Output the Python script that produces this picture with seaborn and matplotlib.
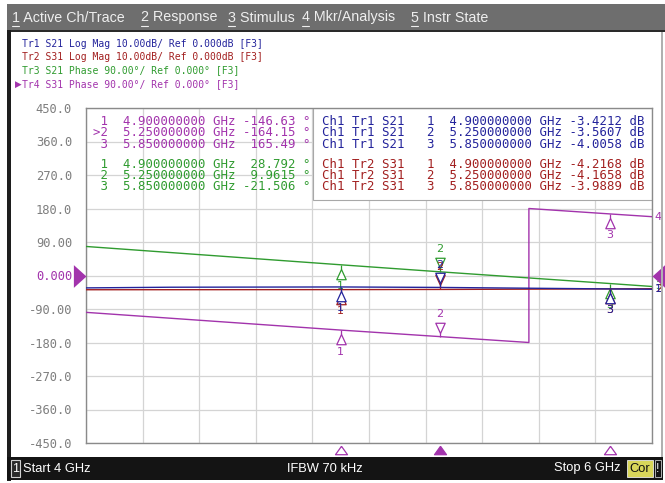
import numpy as np
import pandas as pd
import matplotlib
matplotlib.use("Agg")
import matplotlib.pyplot as plt
import matplotlib.transforms as mtransforms
from matplotlib.path import Path
from matplotlib.markers import MarkerStyle
from matplotlib.patches import Rectangle
from matplotlib.lines import Line2D
from matplotlib import font_manager
import seaborn as sns

# ---------------- data ----------------
start_ghz, stop_ghz = 4.0, 6.0
ifbw_text = "IFBW 70 kHz"
start_text = "Start 4 GHz"
stop_text = "Stop 6 GHz"

tr1_freq = [4.0, 4.3, 4.9, 5.25, 5.85, 6.0]
tr1_db = [-3.70, -3.50, -3.4212, -3.5607, -4.0058, -4.10]
tr2_freq = [4.0, 4.9, 5.25, 5.85, 6.0]
tr2_db = [-4.25, -4.2168, -4.1658, -3.9889, -3.95]
tr3_freq = [4.0, 4.9, 5.25, 5.85, 6.0]
tr3_phase = [78.0, 28.792, 9.9615, -21.506, -29.5]
tr4_freq = [4.0, 4.9, 5.25, 5.565, 5.565, 5.85, 6.0]
tr4_phase = [-99.0, -146.63, -164.15, -180.0, 180.0, 165.49, 158.0]

marker_freq = [4.9, 5.25, 5.85]
marker_names = ["1", "2", "3"]
tr1_mk = [-3.4212, -3.5607, -4.0058]
tr2_mk = [-4.2168, -4.1658, -3.9889]
tr3_mk = [28.792, 9.9615, -21.506]
tr4_mk = [-146.63, -164.15, 165.49]
active_idx = 1

ytick_vals = [450, 360, 270, 180, 90, 0, -90, -180, -270, -360, -450]
ytick_labels = ["450.0", "360.0", "270.0", "180.0", "90.00", "0.000",
                "-90.00", "-180.0", "-270.0", "-360.0", "-450.0"]

header_lines = [
    "Tr1 S21 Log Mag 10.00dB/ Ref 0.000dB [F3]",
    "Tr2 S31 Log Mag 10.00dB/ Ref 0.000dB [F3]",
    "Tr3 S21 Phase 90.00°/ Ref 0.000° [F3]",
    "Tr4 S31 Phase 90.00°/ Ref 0.000° [F3]",
]
menu_digits = ["1", "2", "3", "4", "5"]
menu_words = ["Active Ch/Trace", "Response", "Stimulus", "Mkr/Analysis", "Instr State"]

# ---------------- styling ----------------
C_TR1 = "#23239b"
C_TR2 = "#a21f1f"
C_TR3 = "#2f9b2f"
C_TR4 = "#a233ac"
GRID = "#d4d4d4"
MONO = "DejaVu Sans Mono"

sns.set_style("white")
avail = {f.name for f in font_manager.fontManager.ttflist}
NARROW = "Liberation Sans Narrow" if "Liberation Sans Narrow" in avail else "Liberation Sans"
plt.rcParams["font.family"] = ["DejaVu Sans"]

W, H = 665, 483
fig = plt.figure(figsize=(W / 100, H / 100), dpi=100)
fig.patch.set_facecolor("white")


def fx(x):
    return x / W


def fy(y):
    return 1 - y / H


def rect_px(x0, y0, x1, y1, **kw):
    fig.add_artist(Rectangle((fx(x0), fy(y1)), (x1 - x0) / W, (y1 - y0) / H,
                             transform=fig.transFigure, **kw))


# plot area in pixels: x 86..652, y 108..443
L, R, T, B = 86, 652, 108, 443
ax = fig.add_axes([fx(L), fy(B), (R - L) / W, (B - T) / H])
ax2 = ax.twinx()

# ---------------- frame decorations ----------------
rect_px(7, 4, 665, 30, facecolor="#6e6e6e", edgecolor="none", zorder=1)
rect_px(7, 30, 665, 32, facecolor="#2a2a2a", edgecolor="none", zorder=1)
rect_px(7, 30, 10.5, 481, facecolor="#1e1e1e", edgecolor="none", zorder=1)
rect_px(661, 32, 663, 457, facecolor="#b0b0b0", edgecolor="none", zorder=1)
rect_px(7, 457, 663, 480, facecolor="#141414", edgecolor="none", zorder=1)

menu_x = [12, 141, 228, 302, 411]
for d, w, x in zip(menu_digits, menu_words, menu_x):
    fig.text(fx(x), fy(17.5), d + " " + w, family=[NARROW, "DejaVu Sans"],
             fontsize=10.3, color="#efefef", va="center", ha="left", zorder=3)
    fig.add_artist(Line2D([fx(x), fx(x + 6.5)], [fy(25.5), fy(25.5)],
                          transform=fig.transFigure, color="#efefef", lw=0.8, zorder=3))

hdr_colors = [C_TR1, C_TR2, C_TR3, C_TR4]
hdr_y = [44, 57, 70.5, 84]
for txt, c, y in zip(header_lines, hdr_colors, hdr_y):
    fig.text(fx(22), fy(y), txt, family=MONO, fontsize=7.0, color=c,
             va="center", ha="left", zorder=3)
fig.text(fx(14.5), fy(84), "▶", family="DejaVu Sans", fontsize=6.2, color=C_TR4,
         va="center", ha="left", zorder=3)

# status bar
rect_px(10.5, 460, 20, 477, facecolor="#2a2a2a", edgecolor="#d0d0d0", lw=0.8, zorder=2)
fig.text(fx(15.3), fy(468.5), "1", family=[NARROW, "DejaVu Sans"], fontsize=9,
         color="white", ha="center", va="center", zorder=3)
fig.text(fx(23), fy(468.5), start_text, family=[NARROW, "DejaVu Sans"], fontsize=9.3,
         color="white", ha="left", va="center", zorder=3)
fig.text(fx(287), fy(468.5), ifbw_text, family=[NARROW, "DejaVu Sans"], fontsize=9.3,
         color="white", ha="left", va="center", zorder=3)
fig.text(fx(621), fy(468.5), stop_text, family=[NARROW, "DejaVu Sans"], fontsize=9.3,
         color="white", ha="right", va="center", zorder=3)
rect_px(627, 460, 652.5, 477, facecolor="#d8d65a", edgecolor="#e8e8e8", lw=0.6, zorder=2)
fig.text(fx(639.7), fy(468.5), "Cor", family=[NARROW, "DejaVu Sans"], fontsize=9.3,
         color="#101010", ha="center", va="center", zorder=3)
rect_px(654.5, 460, 661, 477, facecolor="#141414", edgecolor="#c8c8c8", lw=0.6, zorder=2)
fig.text(fx(657.8), fy(468.5), "!", family=[NARROW, "DejaVu Sans"], fontsize=9,
         color="white", ha="center", va="center", zorder=3)

# ---------------- axes ----------------
ax.set_xlim(start_ghz, stop_ghz)
ax.set_ylim(-450, 450)
ax2.set_ylim(-50, 50)
ax.set_xticks(np.linspace(start_ghz, stop_ghz, 11))
ax.set_xticklabels([])
ax.tick_params(axis="x", length=0)
ax.set_yticks(ytick_vals)
ax.set_yticklabels(ytick_labels, family=MONO, fontsize=8.7, color="#7e7e7e")
ax.get_yticklabels()[ytick_labels.index("0.000")].set_color(C_TR4)
ax.tick_params(axis="y", length=0, pad=10)
ax.grid(True, color=GRID, lw=0.9)
ax.set_axisbelow(True)
for s in ax.spines.values():
    s.set_color("#8a8a8a")
    s.set_linewidth(1.0)
ax2.axis("off")

# marker-table box (right block)
ax.add_patch(Rectangle((0.401, 0.7254), 0.599, 0.2746, transform=ax.transAxes,
                       facecolor="white", edgecolor="#a8a8a8", lw=0.8, zorder=1.5))

# ---------------- traces ----------------
df2 = pd.DataFrame({"f": tr2_freq, "v": tr2_db})
df1 = pd.DataFrame({"f": tr1_freq, "v": tr1_db})
df3 = pd.DataFrame({"f": tr3_freq, "v": tr3_phase})
df4 = pd.DataFrame({"f": tr4_freq, "v": tr4_phase})
sns.lineplot(data=df3, x="f", y="v", ax=ax, color=C_TR3, lw=1.0, sort=False, estimator=None, zorder=3)
sns.lineplot(data=df4, x="f", y="v", ax=ax, color=C_TR4, lw=1.0, sort=False, estimator=None, zorder=3)
sns.lineplot(data=df2, x="f", y="v", ax=ax2, color=C_TR2, lw=1.0, sort=False, estimator=None, zorder=3)
sns.lineplot(data=df1, x="f", y="v", ax=ax2, color=C_TR1, lw=1.0, sort=False, estimator=None, zorder=3)
for a in (ax, ax2):
    a.set_xlabel("")
    a.set_ylabel("")
ax2.set_ylim(-50, 50)
ax.set_ylim(-450, 450)
ax.set_xlim(start_ghz, stop_ghz)

# ---------------- markers ----------------
up_path = Path([(0, 0), (0, -0.28), (-0.33, -1.0), (0.33, -1.0), (0, -0.28)])
dn_path = Path([(0, 0), (0, 0.28), (-0.33, 1.0), (0.33, 1.0), (0, 0.28)])
mk_up = MarkerStyle(up_path)
mk_dn = MarkerStyle(dn_path)

traces_mk = [(ax2, tr2_mk, C_TR2), (ax2, tr1_mk, C_TR1), (ax, tr3_mk, C_TR3), (ax, tr4_mk, C_TR4)]
for axis, vals, col in traces_mk:
    for i, (f, v, nm) in enumerate(zip(marker_freq, vals, marker_names)):
        active = (i == active_idx)
        sns.scatterplot(x=[f], y=[v], ax=axis, marker=mk_dn if active else mk_up, s=420,
                        facecolor="white", edgecolor=col, color=col, linewidth=0.9,
                        zorder=5, clip_on=False, legend=False)
        axis.annotate(nm, (f, v), xytext=(0, 16.5 if active else -15.5),
                      textcoords="offset points", ha="center", va="center",
                      family="DejaVu Sans", fontsize=8, color=col, zorder=6,
                      annotation_clip=False)
ax2.set_ylim(-50, 50)
ax2.axis("off")

# trace-number tags at right end
for axis, fr, vals, col, nm in [(ax, tr3_freq, tr3_phase, C_TR3, "3"),
                                (ax2, tr2_freq, tr2_db, C_TR2, "2"),
                                (ax2, tr1_freq, tr1_db, C_TR1, "1"),
                                (ax, tr4_freq, tr4_phase, C_TR4, "4")]:
    axis.annotate(nm, (fr[-1], vals[-1]), xytext=(2, 0), textcoords="offset points",
                  ha="left", va="center", family="DejaVu Sans", fontsize=8, color=col,
                  annotation_clip=False, zorder=6)

# reference arrows (left and right) for active trace
ref_r = MarkerStyle(Path([(0, 0), (-1, 0.9), (-1, -0.9)]))
ref_l = MarkerStyle(Path([(0, 0), (1, 0.9), (1, -0.9)]))
blend = mtransforms.blended_transform_factory(ax.transAxes, ax.transData)
ax.scatter([0.0], [0], marker=ref_r, s=330, color=C_TR4, transform=blend, clip_on=False, zorder=6, lw=0)
ax.scatter([1.0], [0], marker=ref_l, s=330, color=C_TR4, transform=blend, clip_on=False, zorder=6, lw=0)

# marker position indicators below the grid
blend2 = mtransforms.blended_transform_factory(ax.transData, ax.transAxes)
tri = MarkerStyle(Path([(0, 0.7), (-1, -0.7), (1, -0.7), (0, 0.7)]))
for i, f in enumerate(marker_freq):
    active = (i == active_idx)
    ax.scatter([f], [-0.022], marker=tri, s=75, transform=blend2, clip_on=False, zorder=6,
               facecolor=C_TR4 if active else "white", edgecolor=C_TR4, linewidth=0.9)

# ---------------- marker tables ----------------
row_y = [121, 132.5, 144, 164.5, 175.5, 187]
left_rows = []
for i, (f, v) in enumerate(zip(marker_freq, tr4_mk)):
    nm = (">" if i == active_idx else "") + marker_names[i]
    left_rows.append((f"{nm:>2}  {f:.9f} GHz{v:>8.5g} °", C_TR4))
for i, (f, v) in enumerate(zip(marker_freq, tr3_mk)):
    left_rows.append((f"{marker_names[i]:>2}  {f:.9f} GHz{v:>8.5g} °", C_TR3))
right_rows = []
for i, (f, v) in enumerate(zip(marker_freq, tr1_mk)):
    right_rows.append((f"Ch1 Tr1 S21   {marker_names[i]}  {f:.9f} GHz {v:>7.5g} dB", C_TR1))
for i, (f, v) in enumerate(zip(marker_freq, tr2_mk)):
    right_rows.append((f"Ch1 Tr2 S31   {marker_names[i]}  {f:.9f} GHz {v:>7.5g} dB", C_TR2))

for (txt, c), y in zip(left_rows, row_y):
    fig.text(fx(92.6), fy(y), txt, family=MONO, fontsize=8.9, color=c,
             ha="left", va="center", zorder=4)
for (txt, c), y in zip(right_rows, row_y):
    fig.text(fx(321.7), fy(y), txt, family=MONO, fontsize=8.9, color=c,
             ha="left", va="center", zorder=4)

fig.savefig("out.png", dpi=100, facecolor="white")
